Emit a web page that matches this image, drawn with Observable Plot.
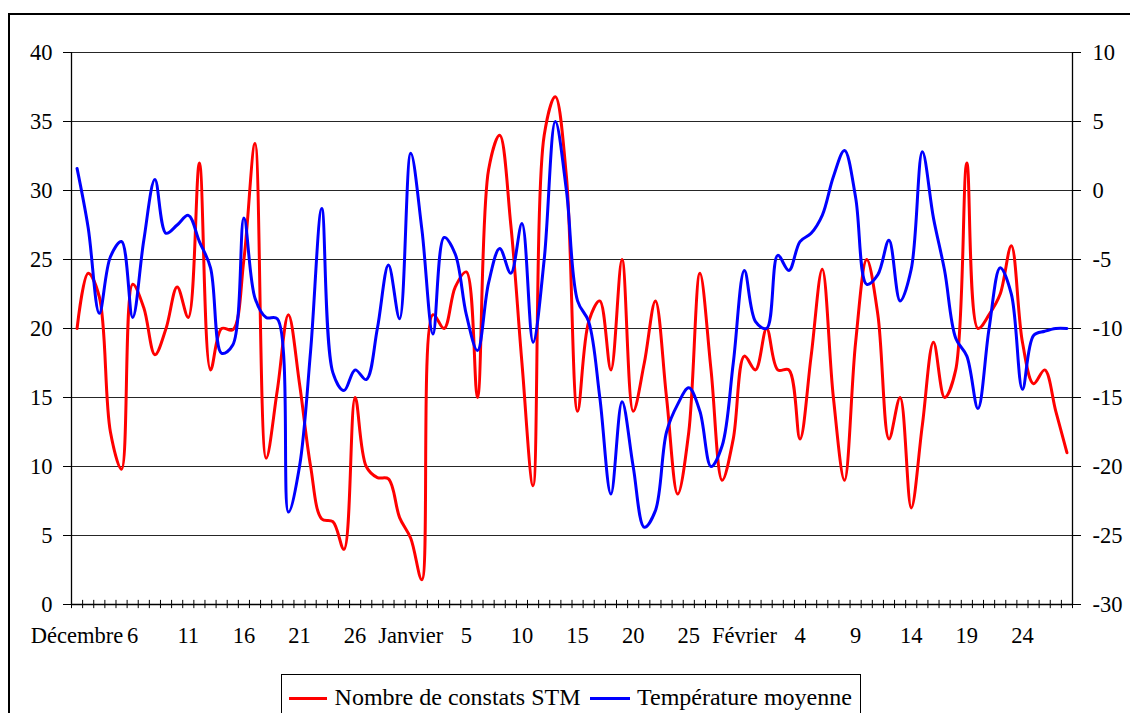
<!DOCTYPE html>
<html><head><meta charset="utf-8">
<script src="https://cdn.jsdelivr.net/npm/d3@7"></script>
<script src="https://cdn.jsdelivr.net/npm/@observablehq/plot@0.6"></script>
<style>
body{margin:0;background:#fff;width:1130px;height:713px;overflow:hidden;position:relative;font-family:"Liberation Serif","Times New Roman",serif;}
#chart{position:absolute;left:0;top:0;}
#frame{position:absolute;left:8px;top:13px;width:1200px;height:800px;border-left:2px solid #000;border-top:2px solid #000;pointer-events:none;z-index:2;}
#legend{position:absolute;left:281px;top:674px;width:578px;height:60px;border:1px solid #000;background:#fff;z-index:3;}
.sw{position:absolute;height:3px;top:21.5px;}
.lt{position:absolute;top:10px;font-size:24px;line-height:24px;white-space:nowrap;color:#000;}
</style></head><body>
<div id="chart"></div>
<div id="frame"></div>
<div id="legend">
  <div class="sw" style="left:6.7px;width:38px;background:#ff0000"></div>
  <div class="lt" style="left:52.6px">Nombre de constats STM</div>
  <div class="sw" style="left:308px;width:40px;background:#0000ff"></div>
  <div class="lt" style="left:355px">Température moyenne</div>
</div>
<script>
// Daily values (one per day, Dec 1 .. end of Feb)
const stm = [20,24,22.3,12.5,9.8,23.2,21.5,18.1,20,23,
  20.8,32,17,20,19.9,25,33.4,10.6,15.5,21,
  16,10,6.2,6,4,15,10,9.2,9.1,6.3,
  4.8,1.8,21,20,23,24.1,15,31.5,34,27.5,
  17.5,8.6,34,36.8,31,14,20.5,22,17,25,
  14,17.5,22,15,8,12.5,24,17,9,12,
  18,17,20,17,17,12,18,24.3,15,9,
  19,25,21,12,15,7,13,19,15,17,
  32,20,21,22.5,26,19,16,17,14,11];
const temp = [1.6,-2.7,-8.9,-4.8,-3.7,-9.2,-3.6,0.8,-3.1,-2.5,
  -1.8,-3.7,-5.6,-11.8,-11.2,-2,-7.8,-9.2,-9.3,-23.3,
  -20,-11.6,-1.3,-13.2,-14.5,-13,-13.7,-10,-5.4,-9.3,
  2.7,-2.8,-10.4,-3.4,-4.6,-9,-11.6,-6.7,-4.2,-6,
  -2.4,-11,-5,5,0,-8,-9.5,-15,-22,-15.3,
  -20,-24.4,-23.2,-17.5,-15.5,-14.3,-16,-20,-18.5,-12.5,
  -5.8,-9.5,-10,-4.7,-5.8,-3.7,-3.1,-1.8,1,2.9,
  -0.5,-6.8,-6.1,-3.6,-8,-5.7,2.8,-2,-5.8,-10.7,
  -12,-15.8,-10,-5.6,-7.5,-14.4,-10.5,-10.2,-10,-10];
const tickLabels = ["Décembre","6","11","16","21","26","Janvier","5","10","15","20","25","Février","4","9","14","19","24"];
const leftTicks = [0,5,10,15,20,25,30,35,40];   // Nombre de constats
const tempOffset = 30;                          // right axis: -30 .. 10

const N = stm.length;
const redData = stm.map((v,i)=>({x:i+0.5, y:v}));
const blueData = temp.map((v,i)=>({x:i+0.5, y:v+tempOffset}));
const labelPos = tickLabels.map((_,k)=>k*5+0.5);
const font = '"Liberation Serif","Times New Roman",serif';

const plot = Plot.plot({
  width:1130, height:660,
  marginLeft:71, marginRight:58, marginTop:52, marginBottom:56,
  style:{fontFamily:font, fontSize:"22.5px", background:"transparent", color:"#000"},
  x:{type:"linear", domain:[0,N], axis:null},
  y:{domain:[0,40], axis:null},
  marks:[
    Plot.ruleY(leftTicks.filter(d=>d>0), {stroke:"#000", strokeWidth:1, strokeOpacity:0.85}),
    Plot.ruleY([0], {stroke:"#000", strokeWidth:1.3}),
    Plot.ruleX([0,N], {stroke:"#000", strokeWidth:1.3}),
    Plot.ruleX(d3.range(N+1), {y1:-0.3, y2:0.3, stroke:"#000"}),
    Plot.axisY(leftTicks, {anchor:"left", tickSize:8, tickPadding:11, fontSize:22.5, fontFamily:font, label:null, stroke:"#000"}),
    Plot.axisY(leftTicks, {anchor:"right", tickSize:8, tickPadding:12, fontSize:22.5, fontFamily:font, label:null, stroke:"#000",
      tickFormat:d=>String(d-tempOffset)}),
    Plot.axisX(labelPos, {anchor:"bottom", tickSize:0, tickPadding:23, fontSize:22.5, fontFamily:font, label:null,
      tickFormat:d=>tickLabels[Math.round((d-0.5)/5)]}),
    Plot.line(redData, {x:"x", y:"y", curve:"catmull-rom", stroke:"#ff0000", strokeWidth:3}),
    Plot.line(blueData, {x:"x", y:"y", curve:"catmull-rom", stroke:"#0000ff", strokeWidth:3})
  ]
});
document.getElementById("chart").appendChild(plot);
</script>
</body></html>
